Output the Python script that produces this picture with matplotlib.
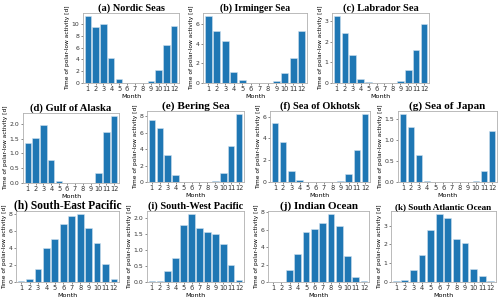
import matplotlib
matplotlib.use("Agg")
import matplotlib.pyplot as plt
import numpy as np

months = list(range(1, 13))
titles = ["(a) Nordic Seas", "(b) Irminger Sea", "(c) Labrador Sea",
          "(d) Gulf of Alaska", "(e) Bering Sea", "(f) Sea of Okhotsk", "(g) Sea of Japan",
          "(h) South-East Pacific", "(i) South-West Pacific", "(j) Indian Ocean",
          "(k) South Atlantic Ocean"]

nordic = [11.3, 9.5, 10.0, 4.2, 0.6, 0.02, 0.02, 0.05, 0.4, 2.2, 6.4, 9.7]
irminger = [6.8, 5.3, 4.3, 1.1, 0.35, 0.0, 0.0, 0.0, 0.25, 1.05, 2.55, 5.35]
labrador = [3.25, 2.42, 1.37, 0.2, 0.04, 0.0, 0.0, 0.01, 0.1, 0.65, 1.6, 2.9]
alaska = [1.35, 1.53, 1.95, 0.78, 0.06, 0.0, 0.0, 0.0, 0.01, 0.33, 1.72, 2.25]
bering = [7.5, 6.6, 3.3, 0.9, 0.0, 0.0, 0.0, 0.0, 0.08, 1.15, 4.4, 8.2]
okhotsk = [5.4, 3.7, 1.05, 0.15, 0.0, 0.0, 0.0, 0.0, 0.07, 0.7, 2.9, 6.2]
japan = [1.6, 1.3, 0.63, 0.02, 0.0, 0.0, 0.0, 0.0, 0.0, 0.03, 0.27, 1.2]
se_pacific = [0.15, 0.35, 1.5, 3.95, 5.05, 6.8, 7.75, 7.9, 6.35, 4.55, 2.05, 0.4]
sw_pacific = [0.02, 0.04, 0.33, 0.73, 1.78, 2.1, 1.68, 1.55, 1.5, 1.18, 0.52, 0.06]
indian = [0.0, 0.03, 1.4, 3.25, 5.7, 6.1, 6.8, 7.75, 6.45, 2.95, 0.6, 0.1]
s_atlantic = [0.03, 0.08, 0.63, 1.42, 2.78, 3.6, 3.4, 2.27, 2.08, 0.7, 0.3, 0.04]

series = [nordic, irminger, labrador, alaska, bering, okhotsk, japan,
          se_pacific, sw_pacific, indian, s_atlantic]
yticks = [[0, 2, 4, 6, 8, 10], [0, 2, 4, 6], [0, 1, 2, 3],
          [0.0, 0.5, 1.0, 1.5, 2.0], [0, 2, 4, 6, 8], [0, 2, 4, 6], [0.0, 0.5, 1.0, 1.5],
          [0, 2, 4, 6, 8], [0.0, 0.5, 1.0, 1.5, 2.0], [0, 2, 4, 6, 8], [0, 1, 2, 3]]

# pixel boxes: left, right, top, bottom
boxes = [(83, 179, 13, 83), (203, 307, 13, 83), (332, 429, 13, 83),
         (23, 119, 113, 183), (147, 244, 111, 182), (270, 370, 111, 182), (398, 497, 111, 182),
         (16, 119, 211, 282), (147, 244, 211, 282), (268, 369, 211, 282), (391, 496, 211, 282)]
# target title widths in pixels
title_px = [67, 71, 76, 82, 68, 80, 77, 108, 96, 79, 98]

W, H = 500, 300
fig = plt.figure(figsize=(5, 3), dpi=100)
renderer = fig.canvas.get_renderer()
for title, vals, yt, (l, r, t, b), tw in zip(titles, series, yticks, boxes, title_px):
    ax = fig.add_axes([l / W, 1 - b / H, (r - l) / W, (b - t) / H])
    ax.bar(months, vals, width=0.8, color="#1f77b4", edgecolor="#cfe0ee", linewidth=0.4)
    ax.set_xlim(0.4, 12.6)
    ymax = max(vals)
    ax.set_ylim(0, ymax * 1.05)
    ax.set_xticks(months)
    ax.set_xticklabels([str(m) for m in months], fontsize=4.8)
    ax.set_yticks(yt)
    if isinstance(yt[1], float):
        ax.set_yticklabels([f"{v:.1f}" for v in yt], fontsize=4.4)
    else:
        ax.set_yticklabels([str(v) for v in yt], fontsize=4.4)
    ax.tick_params(axis="both", length=1.5, width=0.4, pad=1, colors="#333333")
    for s in ax.spines.values():
        s.set_color("#b0b0b0")
        s.set_linewidth(0.6)
    ax.set_xlabel("Month", fontsize=4.6, labelpad=1)
    ax.set_ylabel("Time of polar-low activity [d]", fontsize=4.2, labelpad=1)
    ttl = ax.set_title(title, fontsize=7, fontweight="bold", family="Liberation Serif", pad=1.5)
    w = ttl.get_window_extent(renderer=renderer).width
    ttl.set_fontsize(7 * tw / w)

fig.savefig("out.png", dpi=100)
